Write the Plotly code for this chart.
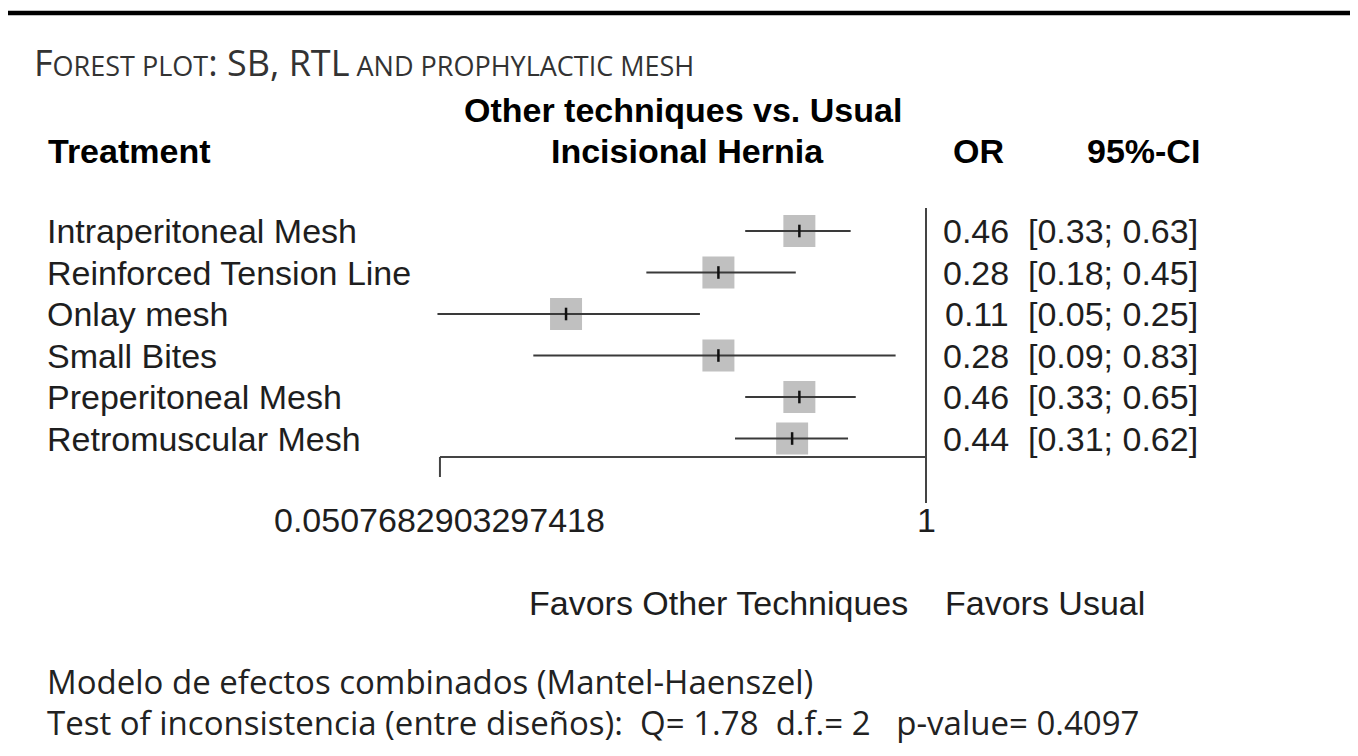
import plotly.graph_objects as go
import math

# ---- data ----
treatments = ["Intraperitoneal Mesh", "Reinforced Tension Line", "Onlay mesh",
              "Small Bites", "Preperitoneal Mesh", "Retromuscular Mesh"]
odds_ratio = [0.46, 0.28, 0.11, 0.28, 0.46, 0.44]
ci_low = [0.33, 0.18, 0.05, 0.09, 0.33, 0.31]
ci_high = [0.63, 0.45, 0.25, 0.83, 0.65, 0.62]
axis_ticks = [0.0507682903297418, 1]
axis_tick_labels = ["0.0507682903297418", "1"]

OFF = 8                     # page body margin
W, H = 1350, 748            # figure size
PX_PER_DEC = 375.5
X_ONE = 926 - OFF
ROW0, ROWSTEP = 231 - OFF, 41.5

r0 = -X_ONE / PX_PER_DEC
r1 = r0 + W / PX_PER_DEC
y_top = (0 - ROW0) / ROWSTEP
y_bot = (H - ROW0) / ROWSTEP

def px(x):
    return (x - OFF) / W

def py(y):
    return 1 - (y - OFF) / H

ARIAL = "Liberation Sans, Arial, sans-serif"
CAL = "Open Sans, Calibri, sans-serif"
TXT = "#1e1e1e"
FS = 34

rows = list(range(len(treatments)))

fig = go.Figure()

# squares
fig.add_trace(go.Scatter(
    x=odds_ratio, y=rows, mode="markers",
    marker=dict(symbol="square", size=32, color="#c0c0c0", line=dict(width=0)),
    hoverinfo="skip", showlegend=False))

# CI lines
cx, cy = [], []
for lo, hi, r in zip(ci_low, ci_high, rows):
    cx += [lo, hi, None]
    cy += [r, r, None]
fig.add_trace(go.Scatter(
    x=cx, y=cy, mode="lines", line=dict(color="#3a3a3a", width=2.2),
    hoverinfo="skip", showlegend=False))

# point estimate tick
fig.add_trace(go.Scatter(
    x=odds_ratio, y=rows, mode="markers",
    marker=dict(symbol="line-ns", size=9, line=dict(color="#111111", width=2.5)),
    hoverinfo="skip", showlegend=False))

shapes = []
# top black bar
shapes.append(dict(type="line", xref="paper", yref="paper", x0=0, x1=1,
                   y0=py(13), y1=py(13), line=dict(color="#000000", width=4.5)))
# reference line at 1
shapes.append(dict(type="line", xref="x", yref="paper", x0=1, x1=1,
                   y0=py(208), y1=py(503), line=dict(color="#444444", width=2)))
# x axis line
shapes.append(dict(type="line", xref="x", yref="paper", x0=axis_ticks[0], x1=axis_ticks[1],
                   y0=py(457), y1=py(457), line=dict(color="#444444", width=2)))
# tick at lower bound
shapes.append(dict(type="line", xref="x", yref="paper", x0=axis_ticks[0], x1=axis_ticks[0],
                   y0=py(457), y1=py(477), line=dict(color="#444444", width=2)))

ann = []
def A(text, x, y, xanchor="left", size=FS, family=ARIAL, color=TXT, xref="paper", yref="paper"):
    ann.append(dict(text=text, x=x, y=y, xref=xref, yref=yref, xanchor=xanchor,
                    yanchor="middle", showarrow=False, borderpad=0,
                    font=dict(family=family, size=size, color=color)))

# title in small caps
big, small = 36, 27
title = (f'F<span style="font-size:{small}px">OREST PLOT</span>: SB, RTL'
         f'<span style="font-size:{small}px"> AND PROPHYLACTIC MESH</span>')
A(title, px(33), py(63), size=big, family=CAL, color="#333333")

# headers
A("<b>Other techniques vs. Usual</b>", px(683), py(110), xanchor="center", color="#000")
A("<b>Incisional Hernia</b>", px(688), py(151), xanchor="center", color="#000")
A("<b>Treatment</b>", px(47), py(151), color="#000")
A("<b>OR</b>", px(978), py(151), xanchor="center", color="#000")
A("<b>95%-CI</b>", px(1201), py(151), xanchor="right", color="#000")

for t, o, lo, hi, r in zip(treatments, odds_ratio, ci_low, ci_high, rows):
    A(t, px(46), r, yref="y")
    A(f"{o:.2f}", px(1010), r, xanchor="right", yref="y")
    A(f"[{lo:.2f}; {hi:.2f}]", px(1199), r, xanchor="right", yref="y")

for v, lab in zip(axis_ticks, axis_tick_labels):
    A(lab, math.log10(v), py(520), xanchor="center", xref="x")

A("Favors Other Techniques", px(909), py(603), xanchor="right")
A("Favors Usual", px(944), py(603))

A("Modelo de efectos combinados (Mantel-Haenszel)", px(46), py(681), size=33, family=CAL, color="#222")
A("Test of inconsistencia (entre diseños):  Q= 1.78  d.f.= 2   p-value= 0.4097",
  px(46), py(722), size=33, family=CAL, color="#222")

fig.update_layout(
    width=W, height=H, margin=dict(l=0, r=0, t=0, b=0),
    paper_bgcolor="white", plot_bgcolor="white",
    xaxis=dict(type="log", range=[r0, r1], visible=False, fixedrange=True),
    yaxis=dict(range=[y_bot, y_top], visible=False, fixedrange=True),
    shapes=shapes, annotations=ann, showlegend=False,
)

fig.write_html("out.html")
